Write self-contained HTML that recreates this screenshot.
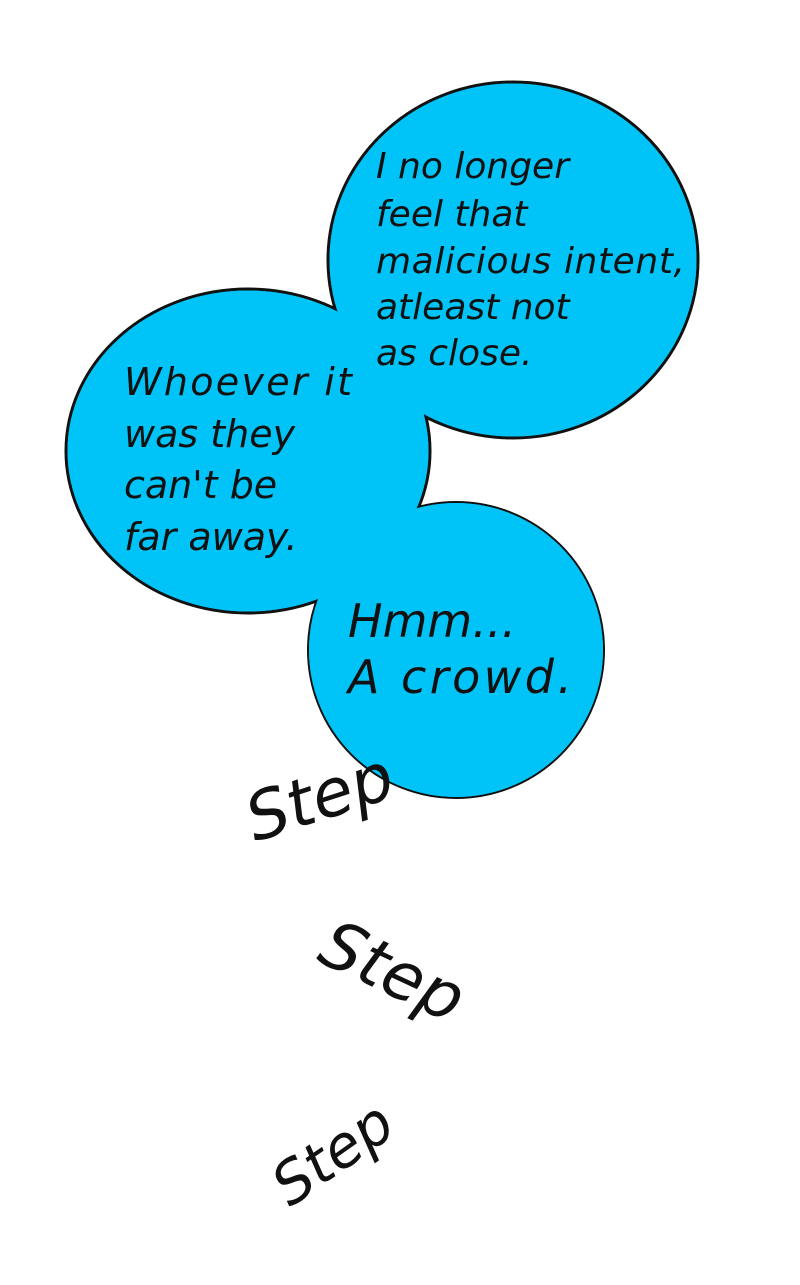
<!DOCTYPE html>
<html><head><style>
body{margin:0;background:#fff;width:800px;height:1280px;overflow:hidden}
text{font-family:"DejaVu Sans","Liberation Sans",sans-serif;fill:#111}
</style></head><body>
<svg width="800" height="1280" viewBox="0 0 800 1280" xmlns="http://www.w3.org/2000/svg">
<g stroke="#111" stroke-width="3" fill="#00c4f7">
<ellipse cx="513" cy="260" rx="185" ry="178"/>
<ellipse cx="248" cy="451" rx="182" ry="162"/>
<circle cx="456" cy="650" r="148" stroke-width="2"/>
</g>
<g fill="#00c4f7">
<ellipse cx="513" cy="260" rx="183.5" ry="176.5"/>
<ellipse cx="248" cy="451" rx="180.5" ry="160.5"/>
<circle cx="456" cy="650" r="147"/>
</g>
<g font-size="36" font-style="italic">
<text x="376" y="178">I no longer</text>
<text x="376" y="226">feel that</text>
<text x="376" y="273" textLength="309">malicious intent,</text>
<text x="376" y="319">atleast not</text>
<text x="376" y="365">as close.</text>
</g>
<g font-size="38" font-style="italic">
<text x="124" y="395" textLength="228">Whoever it</text>
<text x="124" y="447">was  they</text>
<text x="124" y="498">can't be</text>
<text x="124" y="550">far away.</text>
</g>
<g font-size="46" font-style="italic">
<text x="348" y="637">Hmm...</text>
<text x="348" y="693" textLength="224">A crowd.</text>
</g>
<g font-size="66" font-style="italic">
<text transform="translate(255,842) rotate(-18)">Step</text>
<text transform="translate(315,960) rotate(25)">Step</text>
<text transform="translate(290,1208) rotate(-35)" font-size="58">Step</text>
</g>
</svg>
</body></html>
